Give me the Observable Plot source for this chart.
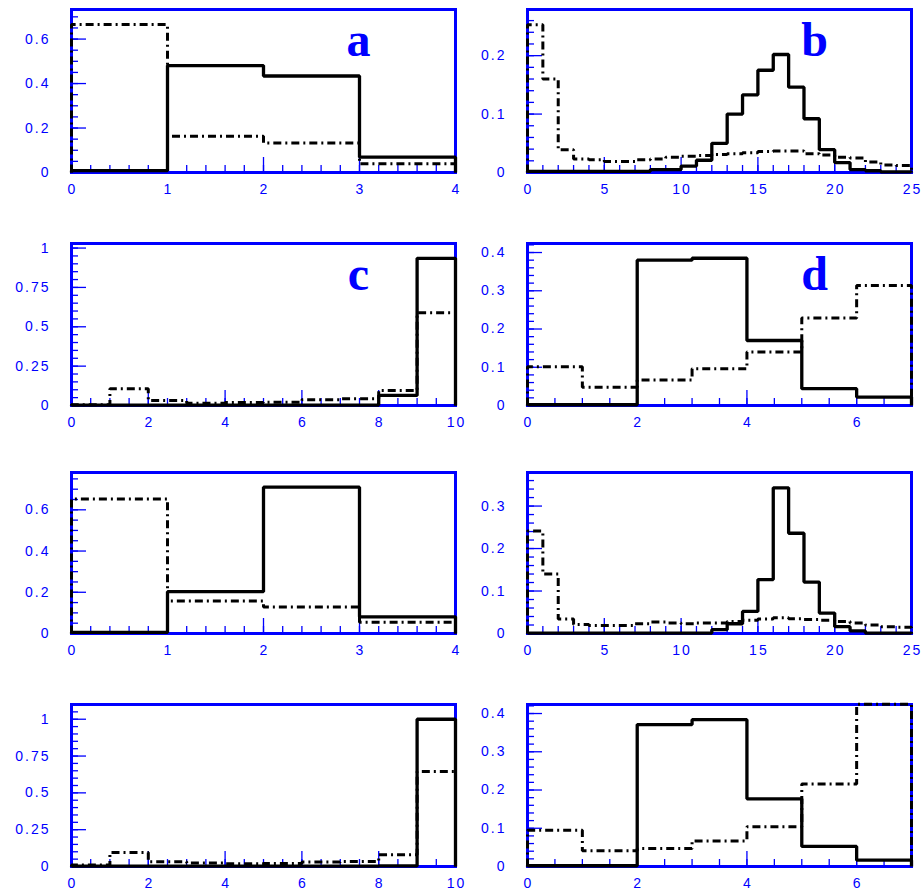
<!DOCTYPE html>
<html>
<head>
<meta charset="utf-8">
<script src="https://cdn.jsdelivr.net/npm/d3@7"></script>
<script src="https://cdn.jsdelivr.net/npm/@observablehq/plot@0.6"></script>
<style>
  body { margin: 0; background: #fff; }
  #page { position: relative; width: 924px; height: 896px; overflow: hidden; background: #fff; }
  #page svg { position: absolute; }
  /* tick labels */
  #page svg text { font-family: "Liberation Sans", Arial, Helvetica, sans-serif; font-size: 14px; letter-spacing: 2px; }
  /* panel letters */
  #page svg g[aria-label="text"] text { font-family: "Liberation Serif", "Times New Roman", serif; font-size: 48px; font-weight: bold; letter-spacing: 0; }
</style>
</head>
<body>
<div id="page"></div>
<script>
// Bin contents (unit-width bins starting at 0): solid and dash-dotted histograms.
const aSolid = [0.008, 0.481, 0.434, 0.069];
const aDash  = [0.665, 0.163, 0.133, 0.039];

const bSolid = [0.002, 0.002, 0.002, 0.002, 0.002, 0.002, 0.002, 0.002, 0.005, 0.005,
                0.011, 0.021, 0.05, 0.1, 0.133, 0.175, 0.202, 0.146, 0.092, 0.039,
                0.017, 0.005, 0.003, 0.001, 0.001];
const bDash  = [0.253, 0.16, 0.039, 0.023, 0.022, 0.019, 0.019, 0.022, 0.023, 0.026,
                0.028, 0.029, 0.031, 0.032, 0.034, 0.036, 0.037, 0.037, 0.032, 0.03,
                0.026, 0.025, 0.018, 0.013, 0.012];

const cSolid = [0.003, 0.003, 0.003, 0.003, 0.003, 0.003, 0.003, 0.003, 0.064, 0.935];
const cDash  = [0.005, 0.106, 0.032, 0.015, 0.019, 0.021, 0.036, 0.043, 0.096, 0.589];

const dSolid = [0.002, 0.002, 0.38, 0.385, 0.17, 0.044, 0.022];
const dDash  = [0.101, 0.048, 0.0665, 0.096, 0.14, 0.229, 0.314];

const eSolid = [0.005, 0.203, 0.71, 0.081];
const eDash  = [0.653, 0.158, 0.129, 0.055];

const fSolid = [0.001, 0.001, 0.001, 0.001, 0.001, 0.001, 0.001, 0.001, 0.001, 0.001,
                0.001, 0.001, 0.009, 0.023, 0.052, 0.127, 0.343, 0.236, 0.121, 0.048,
                0.016, 0.006, 0.001, 0.001, 0.001];
const fDash  = [0.241, 0.14, 0.034, 0.021, 0.019, 0.019, 0.019, 0.023, 0.027, 0.025,
                0.023, 0.025, 0.025, 0.028, 0.031, 0.034, 0.037, 0.035, 0.033, 0.031,
                0.028, 0.025, 0.02, 0.016, 0.015];

const gSolid = [0.002, 0.002, 0.002, 0.002, 0.002, 0.002, 0.002, 0.002, 0.004, 1.0];
const gDash  = [0.011, 0.095, 0.032, 0.023, 0.018, 0.02, 0.03, 0.034, 0.08, 0.645];

const hSolid = [0.002, 0.002, 0.371, 0.384, 0.177, 0.0525, 0.0166];
const hDash  = [0.095, 0.041, 0.047, 0.067, 0.104, 0.216, 0.424];

// Tick labels
const xLabels4  = [0, 1, 2, 3, 4];
const xLabels25 = [0, 5, 10, 15, 20, 25];
const xLabels10 = [0, 2, 4, 6, 8, 10];
const xLabels7  = [0, 2, 4, 6];
const yLabelsA = [0, 0.2, 0.4, 0.6];
const yLabelsB = [0, 0.1, 0.2];
const yLabelsC = [0, 0.25, 0.5, 0.75, 1];
const yLabelsD = [0, 0.1, 0.2, 0.3, 0.4];
const yLabelsE = [0, 0.2, 0.4, 0.6];
const yLabelsF = [0, 0.1, 0.2, 0.3];

// Panel letters
const letters = ["a", "b", "c", "d"];

// Panel definitions: data, axis ranges, tick steps and placement on the page
const panels = [
  {solid: aSolid, dash: aDash, xMax: 4,  yTop: 0.733,  xLab: xLabels4,  xMaj: 1, xMin: 0.2, yLab: yLabelsA, yMin: 0.05, letter: letters[0], col: 0, row: 0},
  {solid: bSolid, dash: bDash, xMax: 25, yTop: 0.279,  xLab: xLabels25, xMaj: 5, xMin: 1,   yLab: yLabelsB, yMin: 0.02, letter: letters[1], col: 1, row: 0},
  {solid: cSolid, dash: cDash, xMax: 10, yTop: 1.029,  xLab: xLabels10, xMaj: 2, xMin: 0.5, yLab: yLabelsC, yMin: 0.05, letter: letters[2], col: 0, row: 1},
  {solid: dSolid, dash: dDash, xMax: 7,  yTop: 0.4236, xLab: xLabels7,  xMaj: 2, xMin: 0.5, yLab: yLabelsD, yMin: 0.02, letter: letters[3], col: 1, row: 1},
  {solid: eSolid, dash: eDash, xMax: 4,  yTop: 0.781,  xLab: xLabels4,  xMaj: 1, xMin: 0.2, yLab: yLabelsE, yMin: 0.05, letter: null, col: 0, row: 2},
  {solid: fSolid, dash: fDash, xMax: 25, yTop: 0.379,  xLab: xLabels25, xMaj: 5, xMin: 1,   yLab: yLabelsF, yMin: 0.02, letter: null, col: 1, row: 2},
  {solid: gSolid, dash: gDash, xMax: 10, yTop: 1.1,    xLab: xLabels10, xMaj: 2, xMin: 0.5, yLab: yLabelsC, yMin: 0.05, letter: null, col: 0, row: 3},
  {solid: hSolid, dash: hDash, xMax: 7,  yTop: 0.4236, xLab: xLabels7,  xMaj: 2, xMin: 0.5, yLab: yLabelsD, yMin: 0.02, letter: null, col: 1, row: 3}
];

// Frame placement (pixels)
const colLeft = [71, 527];
const rowTop = [9, 242.5, 471.5, 704];
const rowHeight = [163, 162, 161, 162];
const frameWidth = 384;

const BLUE = "#0000ff";
const fmt = d3.format("~g");

// Turn bin contents into a closed step outline from (0,0) to (n,0)
function outline(values) {
  const pts = [{x: 0, y: 0}];
  values.forEach((v, i) => pts.push({x: i, y: v}));
  pts.push({x: values.length, y: values[values.length - 1]});
  pts.push({x: values.length, y: 0});
  return pts;
}

// Tick positions every `step` over [0, max]
function steps(max, step) {
  const n = Math.floor(max / step + 1e-9);
  return d3.range(n + 1).map(i => +(i * step).toFixed(6));
}

const page = document.getElementById("page");
const mL = 70, mR = 15, mT = 12, mB = 38;

for (const p of panels) {
  const W = frameWidth, H = rowHeight[p.row];
  const marks = [
    Plot.frame({stroke: BLUE, strokeWidth: 3}),
    Plot.ruleX(steps(p.xMax, p.xMin), {x: d => d, stroke: BLUE, strokeWidth: 1.3, insetTop: H - 7}),
    Plot.ruleX(steps(p.xMax, p.xMaj), {x: d => d, stroke: BLUE, strokeWidth: 1.3, insetTop: H - 15}),
    Plot.ruleY(steps(p.yTop, p.yMin), {y: d => d, stroke: BLUE, strokeWidth: 1.3, insetRight: W - 7}),
    Plot.ruleY(p.yLab, {y: d => d, stroke: BLUE, strokeWidth: 1.3, insetRight: W - 15}),
    Plot.axisX(p.xLab, {tickSize: 0, tickPadding: 12, tickFormat: fmt, color: BLUE, label: null, dx: 1}),
    Plot.axisY(p.yLab, {tickSize: 0, tickPadding: 21, tickFormat: fmt, color: BLUE, label: null}),
    Plot.line(outline(p.dash), {x: "x", y: "y", curve: "step-after", stroke: "black", strokeWidth: 3,
      strokeDasharray: "8,4,2,4", strokeLinecap: "butt", strokeLinejoin: "miter"}),
    Plot.line(outline(p.solid), {x: "x", y: "y", curve: "step-after", stroke: "black", strokeWidth: 3.3,
      strokeLinecap: "butt", strokeLinejoin: "miter"})
  ];
  if (p.letter) {
    marks.push(Plot.text([p.letter], {
      text: d => d, frameAnchor: "top-left", dx: 287, dy: 46,
      textAnchor: "middle", lineAnchor: "bottom", fill: BLUE
    }));
  }
  const svg = Plot.plot({
    width: W + mL + mR,
    height: H + mT + mB,
    marginLeft: mL, marginRight: mR, marginTop: mT, marginBottom: mB,
    style: {background: "transparent", overflow: "visible"},
    x: {domain: [0, p.xMax]},
    y: {domain: [0, p.yTop]},
    marks
  });
  svg.style.left = (colLeft[p.col] - mL) + "px";
  svg.style.top = (rowTop[p.row] - mT) + "px";
  page.appendChild(svg);
}
</script>
</body>
</html>
